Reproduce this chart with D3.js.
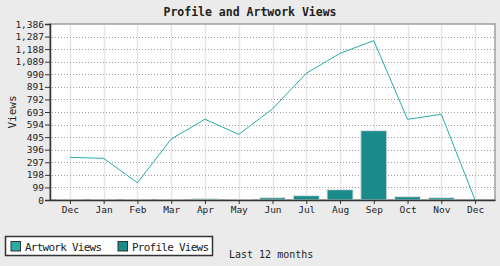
<!DOCTYPE html>
<html>
<head>
<meta charset="utf-8">
<script src="https://cdn.jsdelivr.net/npm/d3@7"></script>
<style>
  body { margin: 0; background: #ebebeb; }
  svg { display: block; }
  text { font-family: "DejaVu Sans Mono", monospace; fill: #222; }
</style>
</head>
<body>
<svg width="500" height="266"></svg>
<script>
// chart data
const months = ["Dec", "Jan", "Feb", "Mar", "Apr", "May", "Jun", "Jul", "Aug", "Sep", "Oct", "Nov", "Dec "];
const artworkViews = [336, 328, 136, 480, 636, 517, 717, 998, 1155, 1255, 635, 675, 0];
const profileViews = [1, 1, 1, 1, 10, 1, 18, 34, 81, 546, 26, 18, 0];
const yTicks = d3.range(0, 1387, 99);

let svg = d3.select("svg"),
    width = +svg.attr("width"),
    height = +svg.attr("height");

const plot = { left: 50, right: 495, top: 24, bottom: 200 };

let x = d3.scalePoint()
    .domain(months)
    .range([plot.left, plot.right])
    .padding(0.59);

let y = d3.scaleLinear()
    .domain([0, 1386])
    .range([plot.bottom, plot.top]);

// plot background
svg.append("rect")
    .attr("x", plot.left)
    .attr("y", plot.top)
    .attr("width", plot.right - plot.left)
    .attr("height", plot.bottom - plot.top)
    .attr("fill", "#fff")
    .attr("stroke", "#a0a0a0")
    .attr("stroke-width", 1.5);

// vertical grid
svg.append("g")
    .selectAll("line")
    .data(months)
    .join("line")
    .attr("x1", d => Math.round(x(d)) + 0.5)
    .attr("x2", d => Math.round(x(d)) + 0.5)
    .attr("y1", plot.top + 1)
    .attr("y2", plot.bottom)
    .attr("stroke", "#e6e6e6")
    .attr("stroke-width", 1.5);

// horizontal dotted grid
svg.append("g")
    .selectAll("line")
    .data(yTicks.slice(1, -1))
    .join("line")
    .attr("x1", plot.left + 2)
    .attr("x2", plot.right - 1)
    .attr("y1", d => Math.round(y(d)) + 0.5)
    .attr("y2", d => Math.round(y(d)) + 0.5)
    .attr("stroke", "#a0a0a0")
    .attr("stroke-dasharray", "1,2");

// profile views bars
const barW = 26;
svg.append("g")
    .selectAll("rect")
    .data(profileViews.slice(0, 12))
    .join("rect")
    .attr("x", (d, i) => x(months[i]) - barW / 2)
    .attr("y", d => y(d))
    .attr("width", barW)
    .attr("height", d => plot.bottom - y(d))
    .attr("fill", "#1b8a8a")
    .attr("stroke", "#e4e4e4")
    .attr("stroke-width", 1);

// artwork views line
let line = d3.line()
    .x((d, i) => x(months[i]))
    .y(d => y(d));

svg.append("path")
    .datum(artworkViews)
    .attr("d", line)
    .attr("fill", "none")
    .attr("stroke", "#2aacab")
    .attr("stroke-width", 1);

// axes
let yAxis = d3.axisLeft(y)
    .tickValues(yTicks)
    .tickSize(5)
    .tickFormat(d3.format(","));

let gy = svg.append("g")
    .attr("transform", "translate(" + plot.left + ",0)")
    .call(yAxis);
gy.select(".domain").attr("stroke", "#333").attr("stroke-width", 1.5);
gy.selectAll(".tick line").attr("stroke", "#333");
gy.selectAll(".tick text")
    .attr("x", -6)
    .style("font-size", "9.5px")
    .style("font-family", "DejaVu Sans Mono, monospace")
    .attr("fill", "#222");

let xAxis = d3.axisBottom(x)
    .tickSize(4)
    .tickSizeOuter(0);

let gx = svg.append("g")
    .attr("transform", "translate(0," + plot.bottom + ")")
    .call(xAxis);
gx.select(".domain").attr("stroke", "#333").attr("stroke-width", 1.5);
gx.selectAll(".tick line").attr("stroke", "#333");
gx.selectAll(".tick text")
    .attr("y", 6)
    .style("font-size", "9.5px")
    .style("font-family", "DejaVu Sans Mono, monospace")
    .attr("fill", "#222");

// title
svg.append("text")
    .attr("x", 250)
    .attr("y", 16)
    .attr("text-anchor", "middle")
    .style("font-size", "11.5px")
    .style("font-weight", "bold")
    .text("Profile and Artwork Views");

// y label
svg.append("text")
    .attr("transform", "translate(16,112) rotate(-90)")
    .attr("text-anchor", "middle")
    .style("font-size", "11px")
    .text("Views");

// x label
svg.append("text")
    .attr("x", 229)
    .attr("y", 258)
    .style("font-size", "10px")
    .text("Last 12 months");

// legend
let legend = svg.append("g");
legend.append("rect")
    .attr("x", 5.5)
    .attr("y", 236.5)
    .attr("width", 207)
    .attr("height", 19)
    .attr("fill", "#fff")
    .attr("stroke", "#333")
    .attr("stroke-width", 1.5);

const legendItems = [
    { label: "Artwork Views", color: "#2aacab", x: 11 },
    { label: "Profile Views", color: "#1b8a8a", x: 118 }
];

let item = legend.selectAll(".item")
    .data(legendItems)
    .join("g")
    .attr("class", "item");

item.append("rect")
    .attr("x", d => d.x)
    .attr("y", 241.5)
    .attr("width", 9.5)
    .attr("height", 9.5)
    .attr("fill", d => d.color)
    .attr("stroke", "#333")
    .attr("stroke-width", 1);

item.append("text")
    .attr("x", d => d.x + 14)
    .attr("y", 250.5)
    .attr("textLength", 77)
    .style("font-size", "11px")
    .text(d => d.label);
</script>
</body>
</html>
